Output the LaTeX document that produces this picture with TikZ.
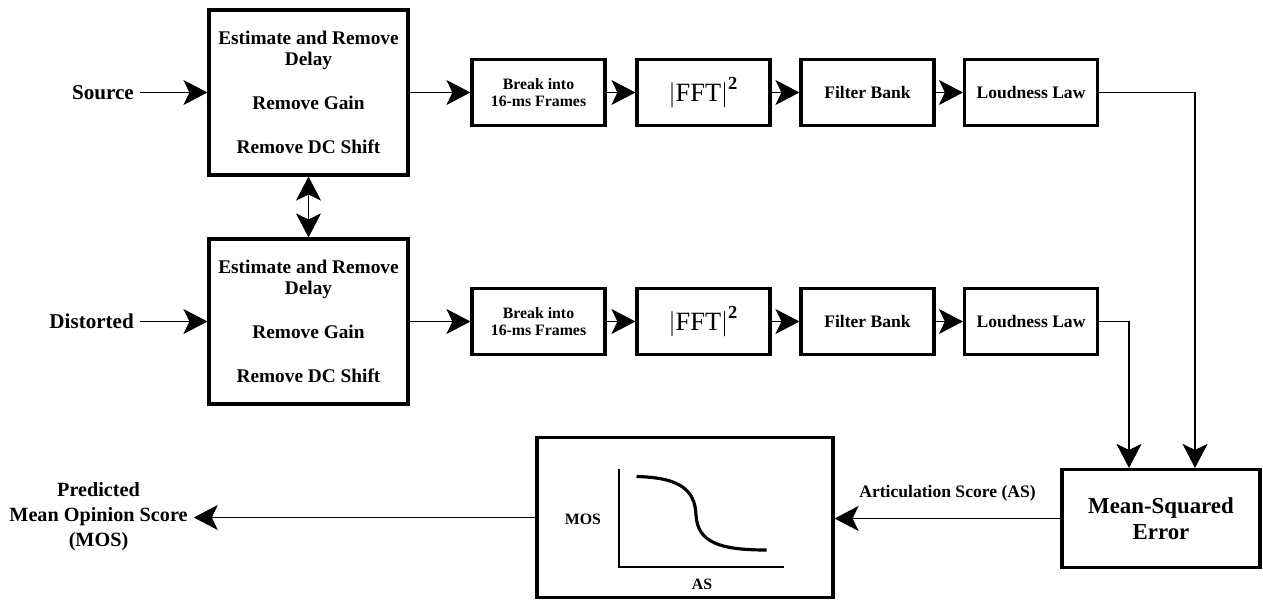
\documentclass[tikz,border=0pt]{standalone}
\usepackage{amsmath}
\usepackage{fontspec}
\setmainfont{Liberation Serif}
\usetikzlibrary{arrows.meta}

\begin{document}
\begin{tikzpicture}[>={Stealth[length=0.48cm,width=0.5cm,inset=0.12cm]},
  every node/.style={font=\bfseries},
  bigbox/.style={draw,line width=1.8pt,minimum width=3.98cm,minimum height=3.3cm,inner sep=1pt,align=center,font=\bfseries\fontsize{11}{12}\selectfont},
  smallbox/.style={draw,line width=1.8pt,minimum width=2.66cm,minimum height=1.32cm,inner sep=1pt,align=center},
  link/.style={line width=0.6pt}]
\useasboundingbox (0,0) rectangle (25.26,-11.98);
% inputs and alignment stage
\node[anchor=east,font=\bfseries\fontsize{12}{14}\selectfont] (src) at (2.8,-1.85) {Source};
\node[anchor=east,font=\bfseries\fontsize{12}{14}\selectfont] (dist) at (2.8,-6.43) {Distorted};
\node[bigbox] (align1) at (6.17,-1.85) {Estimate and Remove\\Delay\\[0.46cm]Remove Gain\\[0.46cm]Remove DC Shift};
\node[bigbox] (align2) at (6.17,-6.43) {Estimate and Remove\\Delay\\[0.46cm]Remove Gain\\[0.46cm]Remove DC Shift};
\draw[link,->] (src) -- (align1);
\draw[link,->] (dist) -- (align2);
\draw[link,<->] (align1) -- (align2);
% the two processing rows
\foreach \r/\y in {1/-1.85,2/-6.43}{
  \node[smallbox,font=\bfseries\fontsize{9}{9.7}\selectfont] (frame\r) at (10.77,\y) {Break into\\16-ms Frames};
  \node[smallbox,font=\fontsize{15}{18}\selectfont] (fft\r) at (14.07,\y) {$\left|\mbox{FFT}\right|^{\text{\bfseries 2}}$};
  \node[smallbox,font=\bfseries\fontsize{10}{12}\selectfont] (fbank\r) at (17.35,\y) {Filter Bank};
  \node[smallbox,font=\bfseries\fontsize{10}{12}\selectfont] (loud\r) at (20.62,\y) {Loudness Law};
  \draw[link,->] (align\r) -- (frame\r);
  \draw[link,->] (frame\r) -- (fft\r);
  \draw[link,->] (fft\r) -- (fbank\r);
  \draw[link,->] (fbank\r) -- (loud\r);
}
% error and mapping to MOS
\node[draw,line width=1.8pt,minimum width=3.96cm,minimum height=1.96cm,align=center,font=\bfseries\fontsize{13}{14.7}\selectfont] (mse) at (23.22,-10.37) {Mean-Squared\\Error};
\draw[link,->] (loud1) -| ([xshift=0.68cm]mse.north);
\draw[link,->] (loud2) -| ([xshift=-0.64cm]mse.north);
\node[draw,line width=1.8pt,minimum width=5.92cm,minimum height=3.2cm] (mosbox) at (13.7,-10.35) {};
\draw[line width=1.5pt] (12.38,-9.38) -- (12.38,-11.34) -- (15.68,-11.34);
\draw[line width=1.8pt] (12.73,-9.53) .. controls (13.6,-9.55) and (13.9,-9.8) .. (13.92,-10.3)
  .. controls (13.95,-10.85) and (14.4,-11.0) .. (15.33,-11.0);
\node[font=\bfseries\fontsize{9}{11}\selectfont] (moslab) at (11.66,-10.38) {MOS};
\node[font=\bfseries\fontsize{9}{11}\selectfont] (aslab) at (14.04,-11.68) {AS};
\draw[link,->] (mse.west) -- (mse.west -| mosbox.east)
  node[midway,above=6pt,font=\bfseries\fontsize{10}{12}\selectfont] (ascore) {Articulation Score (AS)};
\node[align=center,font=\bfseries\fontsize{11.5}{14.2}\selectfont] (pred) at (1.97,-10.34) {Predicted\\Mean Opinion Score\\(MOS)};
\draw[link,->] (mosbox.west) -- (mosbox.west -| pred.east);
\end{tikzpicture}
\end{document}
